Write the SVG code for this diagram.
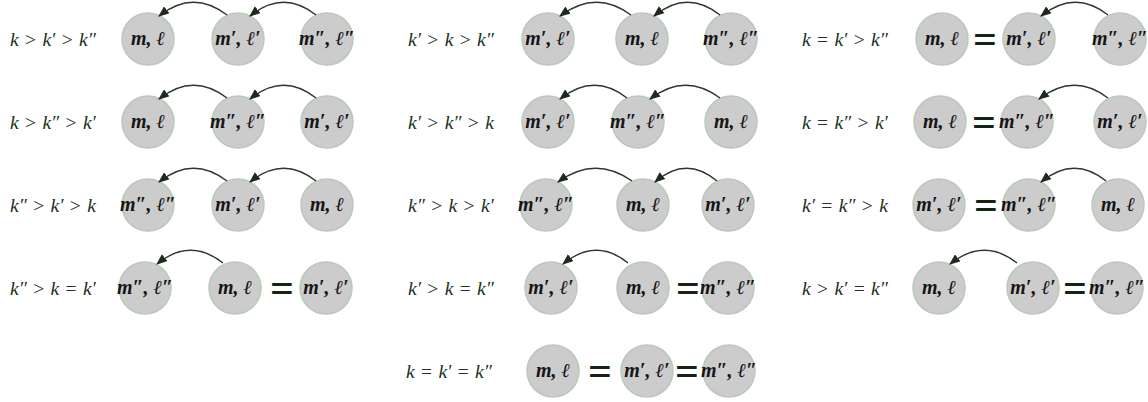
<svg xmlns="http://www.w3.org/2000/svg" width="1148" height="402" viewBox="0 0 1148 402">
<style>
.bg{fill:#ffffff}
.nd circle{fill:#cdcccc;stroke:#b8cab8;stroke-width:1.5}
.nd text{font-family:"Liberation Serif","DejaVu Serif",serif;font-style:italic;font-weight:bold;font-size:20px;fill:#161616;text-anchor:middle}
.lbl{font-family:"Liberation Serif","DejaVu Serif",serif;font-size:19.5px;fill:#223322;word-spacing:1.5px}
.v{font-style:italic}
.eq{font-family:"Liberation Serif","DejaVu Serif",serif;font-weight:bold;font-size:42px;fill:#142414;text-anchor:middle}
.arc{fill:none;stroke:#2a382a;stroke-width:1.4;marker-end:url(#ah)}
</style>
<defs>
<marker id="ah" viewBox="0 0 10 8" refX="9" refY="4" markerWidth="11" markerHeight="9" markerUnits="userSpaceOnUse" orient="auto">
<path d="M0,0 L10,4 L0,8 z" fill="#1e2a1e"/>
</marker>
</defs>
<rect class="bg" x="0" y="0" width="1148" height="402"/>

<g id="labels">
<text class="lbl" x="10" y="46"><tspan class="v">k</tspan> &gt; <tspan class="v">k′</tspan> &gt; <tspan class="v">k″</tspan></text>
<text class="lbl" x="10" y="129"><tspan class="v">k</tspan> &gt; <tspan class="v">k″</tspan> &gt; <tspan class="v">k′</tspan></text>
<text class="lbl" x="10" y="212"><tspan class="v">k″</tspan> &gt; <tspan class="v">k′</tspan> &gt; <tspan class="v">k</tspan></text>
<text class="lbl" x="10" y="295"><tspan class="v">k″</tspan> &gt; <tspan class="v">k</tspan> = <tspan class="v">k′</tspan></text>
<text class="lbl" x="408" y="46"><tspan class="v">k′</tspan> &gt; <tspan class="v">k</tspan> &gt; <tspan class="v">k″</tspan></text>
<text class="lbl" x="408" y="129"><tspan class="v">k′</tspan> &gt; <tspan class="v">k″</tspan> &gt; <tspan class="v">k</tspan></text>
<text class="lbl" x="408" y="212"><tspan class="v">k″</tspan> &gt; <tspan class="v">k</tspan> &gt; <tspan class="v">k′</tspan></text>
<text class="lbl" x="408" y="295"><tspan class="v">k′</tspan> &gt; <tspan class="v">k</tspan> = <tspan class="v">k″</tspan></text>
<text class="lbl" x="406" y="378"><tspan class="v">k</tspan> = <tspan class="v">k′</tspan> = <tspan class="v">k″</tspan></text>
<text class="lbl" x="802" y="46"><tspan class="v">k</tspan> = <tspan class="v">k′</tspan> &gt; <tspan class="v">k″</tspan></text>
<text class="lbl" x="802" y="129"><tspan class="v">k</tspan> = <tspan class="v">k″</tspan> &gt; <tspan class="v">k′</tspan></text>
<text class="lbl" x="802" y="212"><tspan class="v">k′</tspan> = <tspan class="v">k″</tspan> &gt; <tspan class="v">k</tspan></text>
<text class="lbl" x="802" y="295"><tspan class="v">k</tspan> &gt; <tspan class="v">k′</tspan> = <tspan class="v">k″</tspan></text>
</g>

<!-- Column 1 -->
<g id="r1c1-m" class="nd"><circle cx="148" cy="39" r="26"/><text x="148" y="45">m, ℓ</text></g>
<g id="r1c1-m1" class="nd"><circle cx="238" cy="39" r="26"/><text x="238" y="45">m′, ℓ′</text></g>
<g id="r1c1-m2" class="nd"><circle cx="327" cy="39" r="26"/><text x="327" y="45">m″, ℓ″</text></g>

<g id="r2c1-m" class="nd"><circle cx="148" cy="122" r="26"/><text x="148" y="128">m, ℓ</text></g>
<g id="r2c1-m2" class="nd"><circle cx="238" cy="122" r="26"/><text x="238" y="128">m″, ℓ″</text></g>
<g id="r2c1-m1" class="nd"><circle cx="327" cy="122" r="26"/><text x="327" y="128">m′, ℓ′</text></g>

<g id="r3c1-m2" class="nd"><circle cx="148" cy="205" r="26"/><text x="148" y="211">m″, ℓ″</text></g>
<g id="r3c1-m1" class="nd"><circle cx="238" cy="205" r="26"/><text x="238" y="211">m′, ℓ′</text></g>
<g id="r3c1-m" class="nd"><circle cx="327" cy="205" r="26"/><text x="327" y="211">m, ℓ</text></g>

<g id="r4c1-m2" class="nd"><circle cx="145" cy="288" r="26"/><text x="145" y="294">m″, ℓ″</text></g>
<g id="r4c1-m" class="nd"><circle cx="235" cy="288" r="26"/><text x="235" y="294">m, ℓ</text></g>
<g id="r4c1-m1" class="nd"><circle cx="326" cy="288" r="26"/><text x="326" y="294">m′, ℓ′</text></g>

<!-- Column 2 -->
<g id="r1c2-m1" class="nd"><circle cx="548" cy="39" r="26"/><text x="548" y="45">m′, ℓ′</text></g>
<g id="r1c2-m" class="nd"><circle cx="642" cy="39" r="26"/><text x="642" y="45">m, ℓ</text></g>
<g id="r1c2-m2" class="nd"><circle cx="731" cy="39" r="26"/><text x="731" y="45">m″, ℓ″</text></g>

<g id="r2c2-m1" class="nd"><circle cx="548" cy="122" r="26"/><text x="548" y="128">m′, ℓ′</text></g>
<g id="r2c2-m2" class="nd"><circle cx="638" cy="122" r="26"/><text x="638" y="128">m″, ℓ″</text></g>
<g id="r2c2-m" class="nd"><circle cx="731" cy="122" r="26"/><text x="731" y="128">m, ℓ</text></g>

<g id="r3c2-m2" class="nd"><circle cx="546" cy="205" r="26"/><text x="546" y="211">m″, ℓ″</text></g>
<g id="r3c2-m" class="nd"><circle cx="643" cy="205" r="26"/><text x="643" y="211">m, ℓ</text></g>
<g id="r3c2-m1" class="nd"><circle cx="728" cy="205" r="26"/><text x="728" y="211">m′, ℓ′</text></g>

<g id="r4c2-m1" class="nd"><circle cx="551" cy="288" r="26"/><text x="551" y="294">m′, ℓ′</text></g>
<g id="r4c2-m" class="nd"><circle cx="643" cy="288" r="26"/><text x="643" y="294">m, ℓ</text></g>
<g id="r4c2-m2" class="nd"><circle cx="728" cy="288" r="26"/><text x="728" y="294">m″, ℓ″</text></g>

<g id="r5c2-m" class="nd"><circle cx="553" cy="371" r="26"/><text x="553" y="377">m, ℓ</text></g>
<g id="r5c2-m1" class="nd"><circle cx="647" cy="371" r="26"/><text x="647" y="377">m′, ℓ′</text></g>
<g id="r5c2-m2" class="nd"><circle cx="729" cy="371" r="26"/><text x="729" y="377">m″, ℓ″</text></g>

<!-- Column 3 -->
<g id="r1c3-m" class="nd"><circle cx="942" cy="39" r="26"/><text x="942" y="45">m, ℓ</text></g>
<g id="r1c3-m1" class="nd"><circle cx="1029" cy="39" r="26"/><text x="1029" y="45">m′, ℓ′</text></g>
<g id="r1c3-m2" class="nd"><circle cx="1120" cy="39" r="26"/><text x="1120" y="45">m″, ℓ″</text></g>

<g id="r2c3-m" class="nd"><circle cx="940" cy="122" r="26"/><text x="940" y="128">m, ℓ</text></g>
<g id="r2c3-m2" class="nd"><circle cx="1027" cy="122" r="26"/><text x="1027" y="128">m″, ℓ″</text></g>
<g id="r2c3-m1" class="nd"><circle cx="1120" cy="122" r="26"/><text x="1120" y="128">m′, ℓ′</text></g>

<g id="r3c3-m1" class="nd"><circle cx="939" cy="205" r="26"/><text x="939" y="211">m′, ℓ′</text></g>
<g id="r3c3-m2" class="nd"><circle cx="1029" cy="205" r="26"/><text x="1029" y="211">m″, ℓ″</text></g>
<g id="r3c3-m" class="nd"><circle cx="1118" cy="205" r="26"/><text x="1118" y="211">m, ℓ</text></g>

<g id="r4c3-m" class="nd"><circle cx="939" cy="288" r="26"/><text x="939" y="294">m, ℓ</text></g>
<g id="r4c3-m1" class="nd"><circle cx="1033" cy="288" r="26"/><text x="1033" y="294">m′, ℓ′</text></g>
<g id="r4c3-m2" class="nd"><circle cx="1117" cy="288" r="26"/><text x="1117" y="294">m″, ℓ″</text></g>

<g id="connectors">
<path class="arc" d="M227,15 Q193,-11 159,16"/>
<path class="arc" d="M316,15 Q283,-11 250,16"/>
<path class="arc" d="M227,98 Q193,72 159,99"/>
<path class="arc" d="M316,98 Q283,72 250,99"/>
<path class="arc" d="M227,181 Q193,155 159,182"/>
<path class="arc" d="M316,181 Q283,155 250,182"/>
<path class="arc" d="M223,263 Q190,237 157,264"/>

<path class="arc" d="M631,15 Q596,-11 560,16"/>
<path class="arc" d="M720,15 Q687,-11 654,16"/>
<path class="arc" d="M627,98 Q594,72 560,99"/>
<path class="arc" d="M720,98 Q685,72 650,99"/>
<path class="arc" d="M632,181 Q595,155 558,182"/>
<path class="arc" d="M717,181 Q686,155 655,182"/>
<path class="arc" d="M628,263 Q596,237 563,264"/>

<path class="arc" d="M1108,15 Q1075,-11 1041,16"/>
<path class="arc" d="M1108,98 Q1074,72 1039,99"/>
<path class="arc" d="M1106,181 Q1074,155 1041,182"/>
<path class="arc" d="M1017,263 Q984,237 950,264"/>
</g>

<g id="equalities">
<text class="eq" x="282" y="302">=</text>
<text class="eq" x="688" y="302">=</text>
<text class="eq" x="600" y="385">=</text>
<text class="eq" x="687" y="385">=</text>
<text class="eq" x="985" y="53">=</text>
<text class="eq" x="984" y="136">=</text>
<text class="eq" x="986" y="219">=</text>
<text class="eq" x="1075" y="302">=</text>
</g>
</svg>
